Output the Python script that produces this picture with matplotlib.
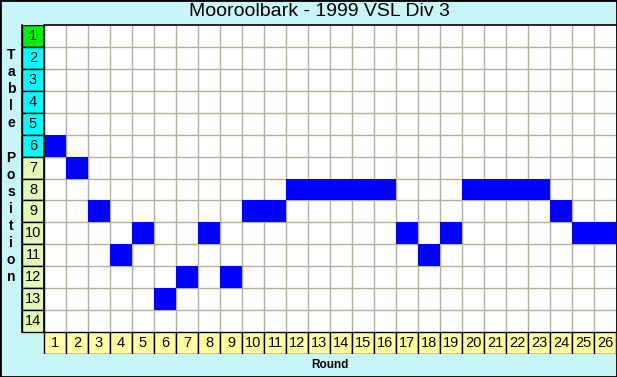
import matplotlib.pyplot as plt
from matplotlib.patches import Rectangle

rounds = list(range(1, 27))
positions = [6, 7, 9, 11, 10, 13, 12, 10, 12, 9, 9, 8, 8, 8, 8, 8,
             10, 11, 10, 8, 8, 8, 8, 9, 10, 10]
table_rows = list(range(1, 15))
row_colors = ["#00ee00"] + ["#00ffff"] * 5 + ["#e4f8b8"] * 8
title = "Mooroolbark - 1999 VSL Div 3"

W, H = 617, 377
fig = plt.figure(figsize=(W / 100, H / 100), dpi=100)
fig.patch.set_facecolor("#c8f6f8")

# grid axes: x -1..26 (label column + rounds), y 0..15 (positions + round row)
ax = fig.add_axes([22 / W, 1 - 354 / H, 594 / W, 329 / H])
ax.set_xlim(-1, 26)
ax.set_ylim(15, 0)
ax.axis("off")

ax.add_patch(Rectangle((0, 0), 26, 14, facecolor="white", edgecolor="none"))
ax.vlines(range(1, 26), 0, 14, color="#b4b0a0", lw=1)
ax.hlines(range(1, 14), 0, 26, color="#b4b0a0", lw=1)

ax.bar([r - 1 for r in rounds], 1, bottom=[p - 1 for p in positions],
       width=1, align="edge", color="#0000ff", edgecolor="none", zorder=3)

for p, c in zip(table_rows, row_colors):
    ax.add_patch(Rectangle((-1, p - 1), 1, 1, facecolor=c,
                           edgecolor="black", lw=1, zorder=4))
    ax.text(-0.5, p - 0.5, str(p), ha="center", va="center",
            fontsize=10.5, family="Liberation Sans", zorder=5)

for r in rounds:
    ax.add_patch(Rectangle((r - 1, 14), 1, 1, facecolor="#ffffa0",
                           edgecolor="black", lw=1, zorder=4))
    ax.text(r - 0.5, 14.5, str(r), ha="center", va="center",
            fontsize=10.5, family="Liberation Sans", zorder=5)

ax.plot([0, 0, 26], [14, 0, 0], color="black", lw=1.2, zorder=6,
        clip_on=False)
ax.plot([-1, -1], [0, 14], color="black", lw=1.2, zorder=6, clip_on=False)

fig.text(319 / W, 1 - 12 / H, title, ha="center", va="center",
         fontsize=14, family="Liberation Sans")
fig.text(330 / W, 1 - 365 / H, "Round", ha="center", va="center",
         fontsize=8.5, fontweight="bold", family="Liberation Sans")

label = "Table Position"
for i, ch in enumerate(label):
    fig.text(11 / W, 1 - (55 + i * 17.1) / H, ch, ha="center", va="center",
             fontsize=10, fontweight="bold", family="Liberation Sans")

fig.add_artist(Rectangle((0, 0), 1, 1, transform=fig.transFigure,
                         fill=False, edgecolor="black", lw=2))

fig.savefig("out.png", dpi=100, facecolor=fig.get_facecolor())
